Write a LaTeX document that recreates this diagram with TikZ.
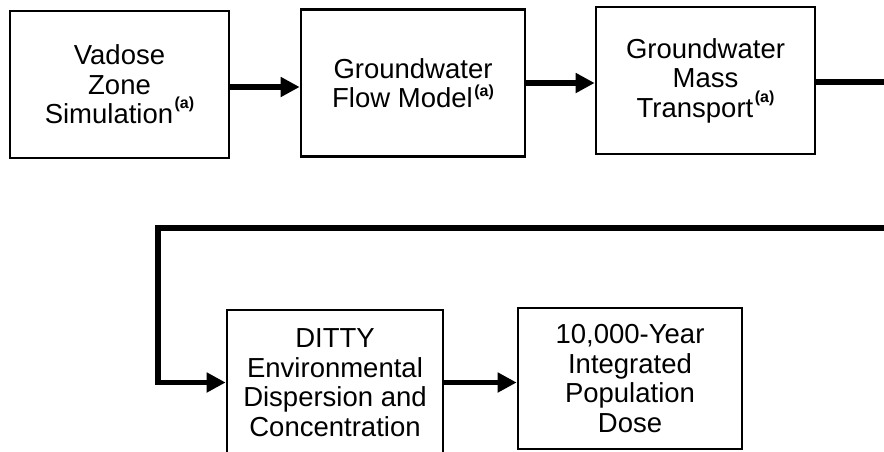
\documentclass[tikz,border=0pt]{standalone}
\usepackage{fontspec}
\setmainfont{Liberation Sans}
\usetikzlibrary{arrows.meta}

\newcommand{\noteA}[1][15pt]{\kern1.5pt\raisebox{#1}{\fontsize{16}{16}\selectfont\bfseries(a)}}

\begin{document}
\begin{tikzpicture}[x=1pt, y=-1pt,
		box/.style={
			draw, line width=2.7pt, rectangle,
			minimum width=219pt, minimum height=147pt,
			font=\fontsize{27.5}{29.5}\selectfont, align=center, inner sep=0pt
		},
		wbox/.style={box, minimum width=224pt},
		arr/.style={-{Triangle[length=19pt,width=19pt]}, line width=5.5pt},
		flow/.style={line width=5.5pt},
		]
		
		\useasboundingbox (0,0) rectangle (884,451);
		
		\node[box]  (vadose) at (119.5, 84.5) {Vadose\\Zone\\Simulation\noteA};
		\node[wbox, font=\fontsize{27.5}{28.5}\selectfont] (gwflow) at (413, 83) {Groundwater\\Flow Model\noteA[10.5pt]};
		\node[box]  (gwmass) at (705.5, 80.5) {Groundwater\\Mass\\Transport\noteA};
		
		\node[box, minimum width=216pt, minimum height=145pt] (ditty) at (335, 382.5)
			{DITTY\\Environmental\\Dispersion and\\Concentration};
		\node[wbox, minimum height=141pt] (dose) at (630, 378.5)
			{10,000-Year\\Integrated\\Population\\Dose};
		
		\coordinate (outR) at (884, 82);
		\coordinate (inR)  at (884, 228);
		\coordinate (bend) at (158, 228);
		
		\draw[arr] ([yshift=-2.5pt]vadose.east) -- ([yshift=-2.5pt]vadose.east -| gwflow.west);
		\draw[arr] (gwflow.east) -- (gwflow.east -| gwmass.west);
		\draw[flow] (gwmass.east |- outR) -- (outR);
		\draw[arr] (inR) -- (bend) |- (ditty.west);
		\draw[arr] (ditty.east) -- (ditty.east -| dose.west);
		
	\end{tikzpicture}
\end{document}
